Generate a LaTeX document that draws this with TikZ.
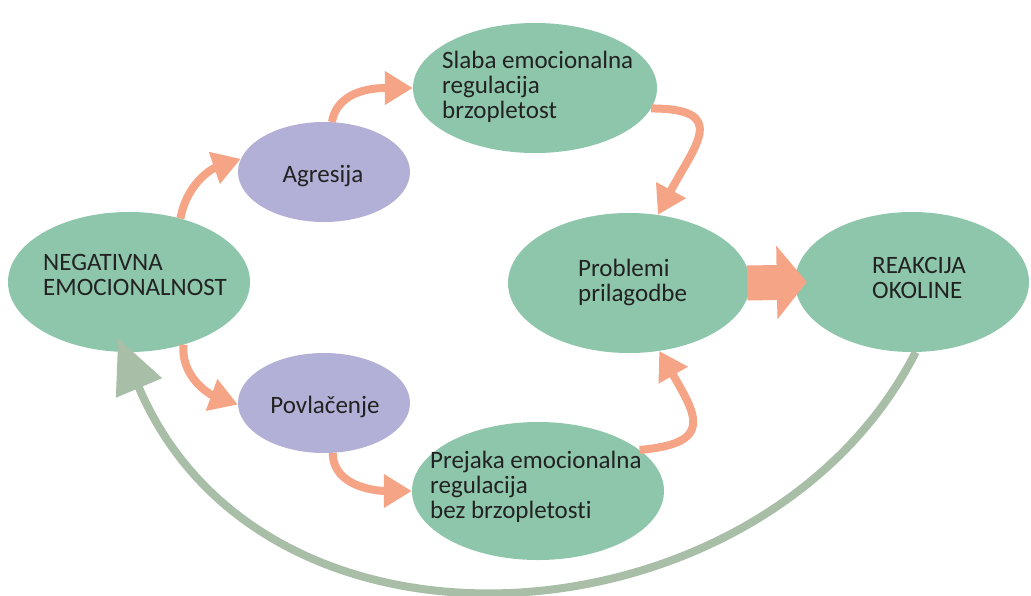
\documentclass[tikz,border=0pt]{standalone}
\usepackage{fontspec}
\setmainfont{Carlito}[Ligatures=NoCommon]
\usetikzlibrary{arrows.meta,shapes.geometric}
\definecolor{egreen}{HTML}{8DC6AB}
\definecolor{epurple}{HTML}{B2B0D6}
\definecolor{eorange}{HTML}{F5A486}
\definecolor{egray}{HTML}{A8BEA6}
\definecolor{etext}{HTML}{222222}
\begin{document}
\begin{tikzpicture}[x=1pt,y=-1pt,
  gell/.style={ellipse, fill=egreen, draw=none, inner sep=0pt},
  pell/.style={ellipse, fill=epurple, draw=none, inner sep=0pt},
  lbl/.style={font=\fontsize{25}{25}\selectfont, text=etext, align=left, inner sep=0pt},
  oarr/.style={draw=eorange, line width=8pt, -{Triangle[length=28pt,width=32pt]}},
  blockarr/.style={draw=eorange, line width=35pt, -{Triangle[length=30pt,width=72pt]}},
  garr/.style={draw=egray, line width=8pt, -{Triangle[length=54pt,width=48pt]}}
]
\useasboundingbox (0,0) rectangle (1031,595);
\fill[white] (0,0) rectangle (1031,595);

\node[gell, minimum width=242pt, minimum height=140pt] (neg) at (129,282) {};
\node[pell, minimum width=172pt, minimum height=100pt] (agr) at (324,172) {};
\node[gell, minimum width=244pt, minimum height=130pt] (sla) at (535,88) {};
\node[gell, minimum width=242pt, minimum height=140pt] (pro) at (629,283) {};
\node[gell, minimum width=234pt, minimum height=140pt] (rea) at (912,282) {};
\node[pell, minimum width=172pt, minimum height=100pt] (pov) at (324,403) {};
\node[gell, minimum width=252pt, minimum height=138pt] (pre) at (538,491) {};

\node[lbl, anchor=west] (negt) at (43,274.5) {NEGATIVNA\\EMOCIONALNOST};
\node[lbl, anchor=base] (agrt) at (323,182) {Agresija};
\node[lbl, anchor=west] (slat) at (442,87) {Slaba emocionalna\\regulacija\\brzopletost};
\node[lbl, anchor=west] (prot) at (578,282) {Problemi\\prilagodbe};
\node[lbl, anchor=west] (reat) at (872,277.5) {REAKCIJA\\OKOLINE};
\node[lbl, anchor=base] (povt) at (325,413) {Povlačenje};
\node[lbl, anchor=west] (pret) at (430,487) {Prejaka emocionalna\\regulacija\\bez brzopletosti};

\draw[oarr] (neg.51) to[out=80,in=199] (agr.171);
\draw[oarr] (agr.81) to[out=80,in=180] (sla.west);
\draw[oarr] (sla.-10) to[out=0,in=62,looseness=1.9] (pro.67);
\draw[oarr] (pre.22) to[out=5,in=-60,looseness=1.9] (pro.-66);
\draw[oarr] (neg.-49) to[out=-95,in=160] (pov.181);
\draw[oarr] (pov.-80) to[out=-90,in=180] (pre.west);

\coordinate (btip) at ([xshift=12pt]rea.west);
\draw[blockarr] ([xshift=-3pt]pro.east) -- (btip);

\coordinate (gtip) at ([xshift=-11pt,yshift=14pt]neg.south);
\draw[garr] (rea.-87) .. controls (766,646) and (266,688) .. (gtip);
\end{tikzpicture}
\end{document}
